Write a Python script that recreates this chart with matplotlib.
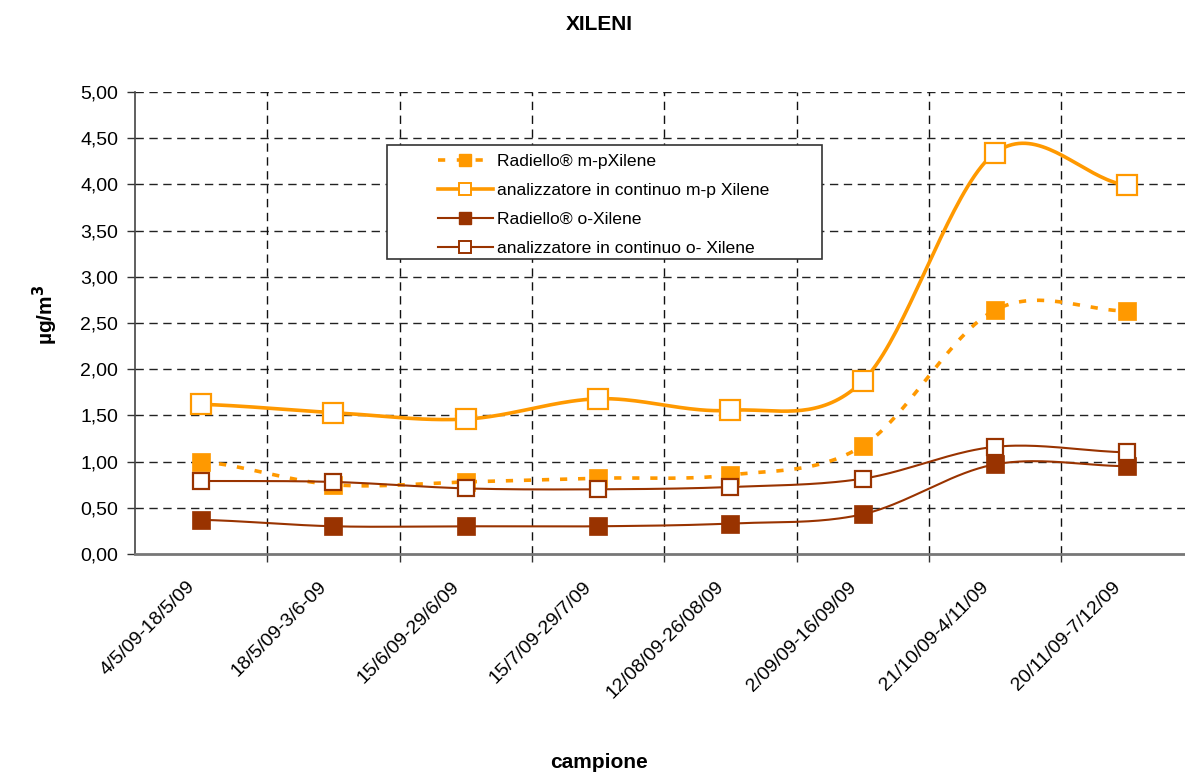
import numpy as np
import matplotlib
matplotlib.use("Agg")
import matplotlib.pyplot as plt
from matplotlib.lines import Line2D
from matplotlib.patches import Rectangle
from matplotlib.ticker import MultipleLocator, FuncFormatter
import matplotlib.transforms as mtransforms

plt.rcParams['font.family'] = ['Liberation Sans', 'DejaVu Sans']

# ---- data ----
categories = ["4/5/09-18/5/09", "18/5/09-3/6-09", "15/6/09-29/6/09",
              "15/7/09-29/7/09", "12/08/09-26/08/09", "2/09/09-16/09/09",
              "21/10/09-4/11/09", "20/11/09-7/12/09"]
radiello_mp = [1.00, 0.75, 0.78, 0.82, 0.855, 1.17, 2.64, 2.63]
analyzer_mp = [1.62, 1.53, 1.46, 1.68, 1.555, 1.87, 4.34, 3.99]
radiello_o = [0.37, 0.30, 0.30, 0.30, 0.33, 0.43, 0.97, 0.95]
analyzer_o = [0.79, 0.78, 0.71, 0.70, 0.725, 0.815, 1.16, 1.10]

labels = ["Radiello® m-pXilene", "analizzatore in continuo m-p Xilene",
          "Radiello® o-Xilene", "analizzatore in continuo o- Xilene"]

ORANGE = "#FF9900"
BROWN = "#993300"


def smooth(values, n=40):
    """Cardinal (Catmull-Rom) Bezier smoothing through the points."""
    y = np.asarray(values, dtype=float)
    m = len(y)
    xs, ys = [], []
    for i in range(m - 1):
        y0 = y[i - 1] if i > 0 else y[i]
        y3 = y[i + 2] if i + 2 < m else y[i + 1]
        p0, p3 = y[i], y[i + 1]
        p1 = p0 + (p3 - y0) / 6.0
        p2 = p3 - (y3 - p0) / 6.0
        t = np.linspace(0, 1, n)
        yy = ((1 - t) ** 3 * p0 + 3 * (1 - t) ** 2 * t * p1
              + 3 * (1 - t) * t ** 2 * p2 + t ** 3 * p3)
        xs.append(i + t)
        ys.append(yy)
    return np.concatenate(xs), np.concatenate(ys)


W, H = 1185, 773
fig = plt.figure(figsize=(W / 100, H / 100), dpi=100)
left, right, top, bottom = 135, 1193.4, 92, 554
ax = fig.add_axes([left / W, 1 - bottom / H, (right - left) / W, (bottom - top) / H])

x = np.arange(len(categories))

series = [
    (radiello_mp, dict(color=ORANGE, lw=2.6, ls=(0, (2, 3))),
     dict(marker='s', ms=13, mfc=ORANGE, mec=ORANGE, mew=0.5)),
    (analyzer_mp, dict(color=ORANGE, lw=2.6, ls='-'),
     dict(marker='s', ms=14.5, mfc='white', mec=ORANGE, mew=1.6)),
    (radiello_o, dict(color=BROWN, lw=1.5, ls='-'),
     dict(marker='s', ms=12.5, mfc=BROWN, mec=BROWN, mew=0.5)),
    (analyzer_o, dict(color=BROWN, lw=1.5, ls='-'),
     dict(marker='s', ms=11, mfc='white', mec=BROWN, mew=1.6)),
]

z = 3
for vals, lstyle, mstyle in series:
    sx, sy = smooth(vals)
    ax.plot(sx, sy, zorder=z, solid_capstyle='butt', dash_capstyle='butt',
            clip_on=False, **lstyle)
    ax.plot(x, vals, ls='none', zorder=z + 0.5, clip_on=False, **mstyle)
    z += 1

# axes
ax.set_xlim(-0.5, len(categories) - 0.5)
ax.set_ylim(0, 5)
ax.yaxis.set_major_locator(MultipleLocator(0.5))
ax.yaxis.set_major_formatter(FuncFormatter(lambda v, p: f"{v:.2f}".replace('.', ',')))

ax.set_xticks(x)
ax.set_xticks(np.arange(0.5, len(categories) - 0.5, 1.0), minor=True)
ax.tick_params(axis='x', which='major', length=0, pad=17.5)
ax.tick_params(axis='x', which='minor', length=6, width=1, color='#333333', direction='out')
ax.tick_params(axis='y', which='major', length=6, width=1, color='#333333',
               direction='out', labelsize=14, pad=6)
ax.set_xticklabels(categories, rotation=45, ha='right', va='top', fontsize=14)
offset = mtransforms.ScaledTranslation(-3 / 100, 0, fig.dpi_scale_trans)
for lab in ax.get_xticklabels():
    lab.set_transform(lab.get_transform() + offset)

ax.grid(False)
for v in np.arange(0.5, 5.01, 0.5):
    ax.axhline(v, color='#222222', lw=1, ls=(0, (6, 4)), zorder=1)
for v in np.arange(0.5, len(categories) - 0.5, 1.0):
    ax.axvline(v, color='#111111', lw=1, ls=(0, (6, 4)), zorder=1)

for s in ['top', 'right']:
    ax.spines[s].set_visible(False)
ax.spines['left'].set_color('#444444')
ax.spines['left'].set_linewidth(1.2)
ax.spines['bottom'].set_color('#777777')
ax.spines['bottom'].set_linewidth(2)

# titles
fig.text(599 / W, 1 - 24 / H, "XILENI", ha='center', va='center',
         fontsize=15, fontweight='bold')
fig.text(599 / W, 1 - 762 / H, "campione", ha='center', va='center',
         fontsize=15, fontweight='bold')
fig.text(45 / W, 1 - 315 / H, "µg/m$^\\mathbf{3}$", ha='center', va='center',
         rotation=90, fontsize=15, fontweight='bold')

# legend frame and entries
lx0, ly0, lx1, ly1 = 387, 145, 822, 259
fig.patches.append(Rectangle((lx0 / W, 1 - ly1 / H), (lx1 - lx0) / W, (ly1 - ly0) / H,
                             transform=fig.transFigure, facecolor='white',
                             edgecolor='#333333', lw=1.2, zorder=10))
handles = [
    Line2D([], [], color=ORANGE, lw=2.6, ls=(0, (2, 3.2)), marker='s', ms=8,
           mfc=ORANGE, mec=ORANGE),
    Line2D([], [], color=ORANGE, lw=2.6, marker='s', ms=8, mfc='white',
           mec=ORANGE, mew=1.4),
    Line2D([], [], color=BROWN, lw=1.5, marker='s', ms=8, mfc=BROWN, mec=BROWN),
    Line2D([], [], color=BROWN, lw=1.5, marker='s', ms=8, mfc='white',
           mec=BROWN, mew=1.4),
]
leg = fig.legend(handles, labels, loc='upper left',
                 bbox_to_anchor=(425.5 / W, 1 - 141.5 / H), frameon=False,
                 fontsize=12.6, handlelength=3.14, handletextpad=0.23,
                 labelspacing=0.79, borderpad=0.2)
leg.set_zorder(11)

fig.savefig("out.png", dpi=100)
